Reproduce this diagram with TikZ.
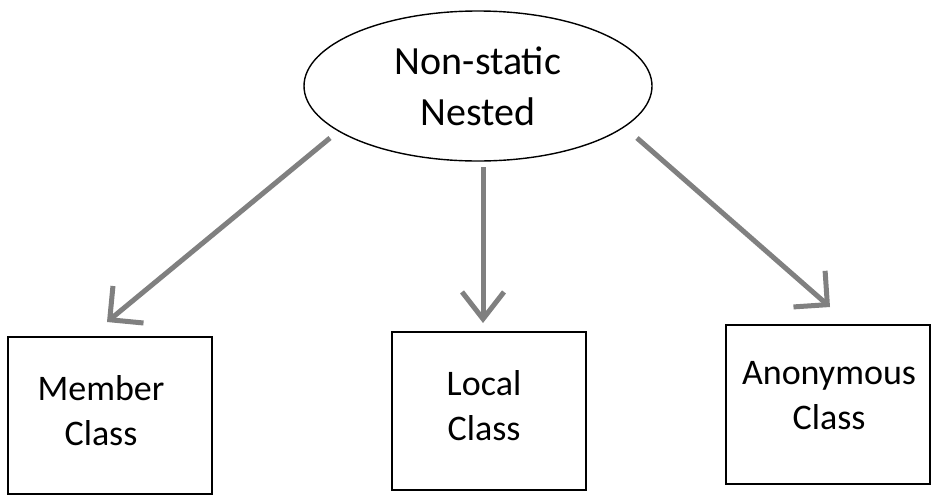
\documentclass[tikz,border=0pt]{standalone}
\usepackage{fontspec}
\setmainfont{Carlito}
\usetikzlibrary{arrows.meta,shapes.geometric}
\definecolor{arrowgray}{RGB}{128,128,128}
\begin{document}
\begin{tikzpicture}[x=1pt,y=-1pt,
  classbox/.style={draw=black, line width=2.2pt, inner sep=0pt, fill=none},
  ovalnode/.style={ellipse, draw=black, line width=1.4pt, inner sep=0pt,
    minimum width=348pt, minimum height=150pt, align=center,
    font=\fontsize{40}{51}\selectfont},
  boxlabel/.style={align=center, inner sep=0pt, font=\fontsize{36}{45}\selectfont},
  conn/.style={draw=arrowgray, line width=5pt,
    -{Straight Barb[length=24pt,width=48pt,line cap=butt]}},
  connv/.style={draw=arrowgray, line width=5pt,
    -{Straight Barb[length=27pt,width=42pt,line cap=butt]}}]
\fill[white] (0,0) rectangle (933,496);
\useasboundingbox (0,0) rectangle (933,496);

\node[ovalnode] (nested) at (478,86) {Non-static\\Nested};

\node[classbox, minimum width=204pt, minimum height=157pt] (member) at (110,415.5) {};
\node[classbox, minimum width=194pt, minimum height=158pt] (local) at (489,411) {};
\node[classbox, minimum width=204pt, minimum height=159pt] (anon) at (828,404.5) {};

\node[boxlabel] (memberlbl) at (101,411) {Member\\Class};
\node[boxlabel] (locallbl) at (484,406) {Local\\Class};
\node[boxlabel] (anonlbl) at (829,396) {Anonymous\\Class};

\coordinate (s1) at (330,138);
\coordinate (e1) at (107,322);
\coordinate (s2) at (483,167);
\coordinate (e2) at (483,323);
\coordinate (s3) at (637,138);
\coordinate (e3) at (830,307);

\draw[conn] (s1) -- (e1);
\draw[connv] (s2) -- (e2);
\draw[conn] (s3) -- (e3);
\end{tikzpicture}
\end{document}
